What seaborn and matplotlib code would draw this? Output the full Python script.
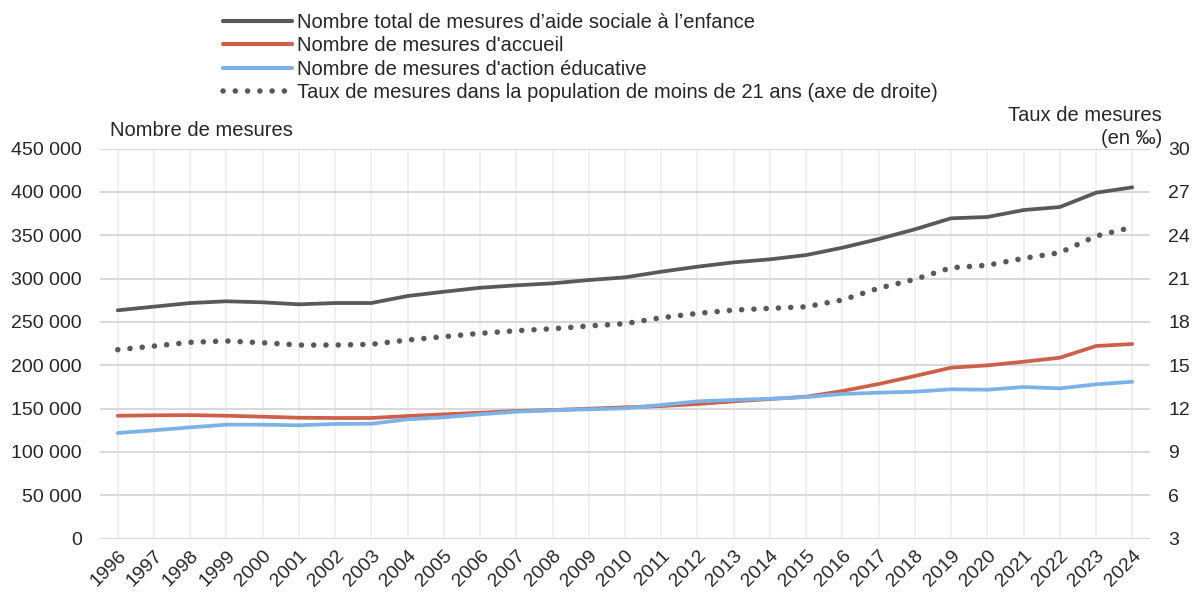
import numpy as np
import pandas as pd
import matplotlib
matplotlib.use("Agg")
import matplotlib.pyplot as plt
from matplotlib.lines import Line2D
import seaborn as sns

# --- Data ---
years = list(range(1996, 2025))
total = [263400, 267600, 271800, 273800, 272600, 270300, 271800, 271800, 279900, 284800,
         289400, 292200, 294500, 298300, 301400, 307900, 313700, 318700, 322200, 327100,
         335600, 345600, 356800, 369500, 371000, 379000, 382500, 399000, 405200]
accueil = [141800, 142300, 142500, 141800, 140700, 139500, 139200, 139200, 141500, 143400,
           145300, 147300, 148400, 149900, 151500, 153000, 155300, 158400, 161100, 163700,
           170300, 178400, 187600, 197200, 199900, 204100, 208700, 222200, 224500]
educ = [121900, 125000, 128400, 131500, 131500, 130800, 132300, 132600, 137700, 140000,
        143400, 146500, 148100, 149200, 150400, 154200, 158400, 160000, 161400, 163400,
        166900, 168400, 169500, 172300, 171800, 174900, 173400, 178000, 181000]
taux = [16.08, 16.33, 16.59, 16.68, 16.56, 16.40, 16.40, 16.45, 16.75, 16.98,
        17.21, 17.39, 17.53, 17.72, 17.88, 18.29, 18.59, 18.82, 18.94, 19.05,
        19.52, 20.33, 20.95, 21.75, 21.92, 22.40, 22.79, 23.94, 24.55]

labels = ["Nombre total de mesures d’aide sociale à l’enfance",
          "Nombre de mesures d'accueil",
          "Nombre de mesures d'action éducative",
          "Taux de mesures dans la population de moins de 21 ans (axe de droite)"]
c_total, c_acc, c_edu = "#595959", "#CC6048", "#7DB2E8"

df = pd.DataFrame({"annee": years, "total": total, "accueil": accueil,
                   "educ": educ, "taux": taux})

# --- Setup ---
sns.set_style("white")
plt.rcParams["font.family"] = ["Liberation Sans", "DejaVu Sans"]
fs_tick, fs_text = 14, 14.5
dots = (0, (0.01, 2.2))

fig = plt.figure(figsize=(11.92, 5.94), dpi=100)
ax = fig.add_axes([100 / 1192, 1 - 538.7 / 594, 1050 / 1192, 390.2 / 594])

sns.lineplot(data=df, x="annee", y="accueil", color=c_acc, lw=2.7, ax=ax, zorder=3)
sns.lineplot(data=df, x="annee", y="educ", color=c_edu, lw=2.7, ax=ax, zorder=4)
sns.lineplot(data=df, x="annee", y="total", color=c_total, lw=2.7, ax=ax, zorder=5)

ax.set_xlim(1995.51, 2024.49)
ax.set_ylim(0, 450000)
ax.set_xticks(years)
ax.set_xticklabels([str(y) for y in years], rotation=45, ha="right",
                   rotation_mode="anchor")
ax.set_yticks(range(0, 450001, 50000))
ax.set_yticklabels([f"{v:,}".replace(",", " ") for v in range(0, 450001, 50000)])
ax.tick_params(axis="y", length=0, pad=13, labelsize=fs_tick)
ax.tick_params(axis="x", length=0, pad=6, labelsize=fs_tick)
ax.set_xlabel("")
ax.set_ylabel("")
for s in ax.spines.values():
    s.set_visible(False)
ax.grid(False)
for y in years:
    ax.axvline(y, color="#efefef", lw=1.3, zorder=0)
for v in range(0, 450001, 50000):
    ax.axhline(v, color="#d9d9d9", lw=1.5, zorder=1)

# --- Right axis ---
ax2 = ax.twinx()
sns.lineplot(data=df, x="annee", y="taux", color=c_total, lw=4,
             linestyle=dots, dash_capstyle="round", ax=ax2, zorder=5)
ax2.set_ylim(3, 30)
ax2.set_yticks(range(3, 31, 3))
ax2.tick_params(axis="y", length=0, pad=13, labelsize=fs_tick)
ax2.set_ylabel("")
ax2.set_xlabel("")
ax2.grid(False)
for s in ax2.spines.values():
    s.set_visible(False)

fig.text(110 / 1192, 1 - 130 / 594, "Nombre de mesures", fontsize=fs_text,
         ha="left", va="center")
fig.text(1162 / 1192, 1 - 127 / 594, "Taux de mesures\n(en ‰)", fontsize=fs_text,
         ha="right", va="center", multialignment="right", linespacing=1.3)

# --- Legend ---
handles = [Line2D([], [], color=c_total, lw=3),
           Line2D([], [], color=c_acc, lw=3),
           Line2D([], [], color=c_edu, lw=3),
           Line2D([], [], color=c_total, lw=4, linestyle=dots,
                  dash_capstyle="round")]
fig.legend(handles, labels, loc="upper left", bbox_to_anchor=(215 / 1192, 1 - 5 / 594),
           frameon=False, fontsize=fs_text, handlelength=3.4, handletextpad=0.25,
           labelspacing=0.22, borderaxespad=0)

fig.savefig("out.png", dpi=100)
